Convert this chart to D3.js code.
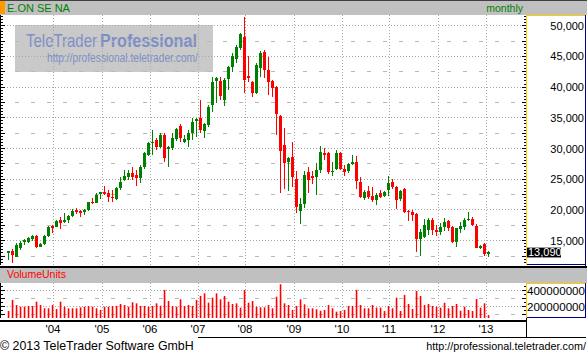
<!DOCTYPE html>
<html><head><meta charset="utf-8">
<script src="https://cdn.jsdelivr.net/npm/d3@7"></script>
<style>
html,body{margin:0;padding:0;background:#fff;}
svg{display:block;font-family:"Liberation Sans",Arial,sans-serif;}
</style></head><body>
<svg id="c" width="587" height="355"></svg>
<script>
// ---------- data ----------
const title = "E.ON SE NA";
const period = "monthly";
const firstMonth = [2003, 1]; // Feb 2003 (month index 0-based)
const openP  = [13.05,13.37,12.40,13.76,14.84,14.84,15.23,15.77,14.02,14.46,15.77,17.39,17.28,18.37,18.05,18.37,19.02,20.00,19.84,19.67,20.00,21.35,21.19,22.55,22.98,22.72,22.16,21.74,23.53,24.88,25.42,26.07,25.70,25.16,27.05,28.95,30.86,31.39,30.30,32.21,29.88,30.04,31.51,33.67,31.12,31.39,32.48,34.54,35.02,32.91,33.84,37.09,41.05,41.00,37.91,41.27,43.23,44.53,46.32,48.21,41.81,40.88,39.00,43.16,45.77,42.79,41.05,40.07,35.30,30.58,27.86,28.68,25.05,19.88,20.98,26.18,25.53,25.42,26.51,29.33,29.33,26.18,26.67,29.33,26.67,26.40,27.44,27.86,24.61,21.90,23.09,22.33,21.63,22.72,22.28,23.25,24.61,23.79,21.79,23.42,19.88,19.62,19.35,15.23,15.65,16.74,18.37,16.74,16.47,17.28,18.21,17.28,14.84,16.95,17.28,18.37,18.53,17.39,13.86,14.46,12.95];
const highP  = [13.37,13.60,14.68,15.00,15.23,15.65,15.98,15.88,14.58,15.93,17.39,17.56,18.37,18.81,19.46,19.18,20.11,20.37,20.00,20.21,21.35,21.90,22.72,22.98,23.91,23.25,23.25,23.79,25.42,26.51,26.51,27.05,26.51,27.32,29.44,31.07,33.02,31.72,32.53,32.53,30.42,32.53,33.35,34.00,32.21,33.02,34.93,34.93,37.91,34.11,37.09,41.70,41.70,41.70,41.44,43.49,45.51,46.86,48.86,51.42,45.07,41.00,43.88,45.88,46.04,44.95,41.16,40.18,35.46,33.40,28.68,31.12,26.35,21.90,26.35,27.05,26.40,27.60,30.42,30.04,29.49,27.86,29.77,29.49,27.32,27.60,28.95,28.79,25.32,23.25,23.91,23.69,22.72,23.25,23.14,25.53,25.00,23.91,23.25,23.53,20.00,20.00,19.46,16.91,18.48,18.65,18.65,17.56,17.93,18.65,18.29,17.39,17.12,18.09,18.65,19.72,18.91,17.67,14.30,14.68,13.37];
const lowP   = [11.86,11.42,12.30,13.49,14.30,14.58,15.00,13.76,13.93,14.30,15.65,16.21,17.18,16.91,17.93,17.83,18.81,19.35,18.81,19.23,19.88,20.98,21.09,21.74,22.44,21.35,21.35,21.63,23.25,24.77,24.88,24.88,23.91,24.44,26.67,28.79,28.95,29.77,30.09,27.81,27.05,29.77,31.23,31.07,30.86,30.30,31.39,31.93,32.48,31.67,33.56,36.00,37.37,37.91,36.93,39.53,42.51,43.88,46.04,39.00,40.88,38.44,38.88,41.60,41.44,38.72,38.34,32.21,22.81,23.37,23.14,23.69,19.56,17.72,20.28,22.81,24.23,22.44,25.97,28.14,25.86,25.53,26.51,26.51,25.58,25.97,27.32,23.37,22.00,21.63,21.74,21.35,20.81,21.90,22.16,22.28,23.37,20.11,21.46,19.56,18.26,18.26,13.21,12.51,15.39,15.93,15.93,15.77,15.93,16.63,16.58,14.68,14.02,16.21,16.74,18.26,17.39,13.76,13.65,12.51,12.40];
const closeP = [13.27,12.67,14.30,14.68,15.11,15.39,15.77,13.93,14.46,15.77,17.18,17.12,18.21,17.83,18.37,19.02,19.88,19.67,19.56,20.00,21.25,21.09,22.49,22.88,22.55,22.16,21.90,23.53,24.61,25.53,25.97,25.42,25.16,27.05,29.23,30.86,31.07,30.30,32.21,28.41,30.21,31.67,33.14,31.72,31.51,32.48,34.37,34.81,33.02,33.95,36.72,40.88,41.54,38.56,41.16,43.33,45.07,46.58,48.65,41.16,41.44,39.09,43.60,45.61,42.79,40.88,39.81,35.63,29.65,27.60,28.41,25.32,20.54,20.98,25.70,24.88,25.26,26.51,29.49,28.95,26.14,26.35,29.23,26.62,26.23,27.44,27.86,24.77,22.16,22.98,22.16,21.63,22.44,22.16,22.98,24.34,23.79,21.63,23.14,19.72,19.72,19.18,15.33,16.47,17.56,18.37,16.74,16.47,17.28,18.09,17.02,14.84,17.02,17.39,18.37,18.53,17.56,13.86,14.14,12.84,13.09];
// volume in millions of units
const volumeM = [146,284,221,200,200,209,209,263,221,180,180,221,171,263,200,180,180,180,192,200,209,200,180,159,200,200,209,209,234,221,200,255,242,209,209,200,209,242,213,409,271,209,200,292,209,221,209,284,334,367,250,313,367,292,334,263,234,242,188,409,250,271,200,192,192,221,180,325,480,242,221,159,209,292,230,180,180,167,150,159,221,180,138,146,159,209,209,409,221,180,180,221,188,188,146,209,180,313,146,346,234,171,396,334,221,234,209,200,188,250,180,209,234,150,200,159,146,296,188,242,96];
const yearLabels = ["'04","'05","'06","'07","'08","'09","'10","'11","'12","'13"];
const priceTicks = [15,20,25,30,35,40,45,50];
const volumeTicks = [200,400];
const lastPrice = 13.09;
const copyright = "\u00a9 2013 TeleTrader Software GmbH";
const siteUrl = "http://professional.teletrader.com/";

// ---------- setup ----------
const n = openP.length;
const months = d3.range(n).map(i => new Date(firstMonth[0], firstMonth[1] + i, 1));
const loc = d3.formatLocale({decimal: ",", thousands: ".", grouping: [3], currency: ["", ""]});
const fmtP = loc.format(".3f");
const fmtV = v => String(Math.round(v * 1e6));

const svg = d3.select("#c");
const plotL = 1, plotR = 526;
const plotT = 15, plotB = 265;
const volT = 283, volB = 318;
const GREEN = "#008000", RED = "#ff0000";

const x = d3.scaleLinear().domain([0, n - 1]).range([8.5, 488.5]);
const y = d3.scaleLinear().domain([15, 50]).range([240.7, 25.7]);
const yV = d3.scaleLinear().domain([0, 500]).range([322.7, 282.7]);
const snap = v => Math.floor(v) + 0.5;

// ---------- header ----------
svg.append("rect").attr("x", 0).attr("y", 0).attr("width", 587).attr("height", 15).attr("fill", "#c0c0c0");
svg.append("rect").attr("x", 0).attr("y", 0).attr("width", 587).attr("height", 1).attr("fill", "#404040");
svg.append("rect").attr("x", 0).attr("y", 1).attr("width", 5).attr("height", 13).attr("fill", "#ff9900");
svg.append("text").attr("x", 7).attr("y", 12).attr("font-size", 11).attr("fill", GREEN).text(title);
svg.append("text").attr("x", 523).attr("y", 12).attr("font-size", 10.5).attr("text-anchor", "end").attr("fill", GREEN).text(period);

// ---------- watermark ----------
const wm = svg.append("g");
wm.append("rect").attr("x", 15).attr("y", 25).attr("width", 198).attr("height", 47).attr("fill", "#c9c9c9");
function squeezed(g, str, x0, y0, size, weight, width) {
  const t = g.append("text").attr("font-size", size).attr("font-weight", weight).attr("fill", "#7f8fc6").text(str);
  const w = t.node().getComputedTextLength() || width;
  t.attr("transform", `translate(${x0},${y0}) scale(${width / w},1)`);
  return t;
}
squeezed(wm, "TeleTrader", 26, 46.7, 18, "normal", 71);
squeezed(wm, "Professional", 100, 46.7, 18, "bold", 97);
squeezed(wm, siteUrl, 47, 62.3, 12.5, "normal", 151);

// ---------- grid ----------
const grid = svg.append("g").attr("shape-rendering", "crispEdges");
const dotStyle = s => s.attr("stroke", "#a8a8a8").attr("stroke-dasharray", "1,2");
const dashStyle = s => s.attr("stroke", "#b8b8b8").attr("stroke-dasharray", "4,12").attr("stroke-dashoffset", 2);
d3.range(12.5, 50.01, 2.5).forEach(v => {
  const yy = snap(y(v));
  if (yy < plotT || yy > plotB) return;
  const l = grid.append("line").attr("x1", plotL).attr("x2", plotR).attr("y1", yy).attr("y2", yy);
  (v % 5 === 0 ? dotStyle : dashStyle)(l);
});
[100, 200, 300, 400].forEach(v => {
  const yy = snap(yV(v));
  const l = grid.append("line").attr("x1", plotL).attr("x2", plotR).attr("y1", yy).attr("y2", yy);
  (v % 200 === 0 ? dotStyle : dashStyle)(l);
});
const janIdx = d3.range(n).filter(i => months[i].getMonth() === 0);
const gx = i => Math.round(x(i)) + 1.5;
janIdx.forEach(i => {
  dotStyle(grid.append("line").attr("x1", gx(i)).attr("x2", gx(i)).attr("y1", plotT).attr("y2", plotB));
  dotStyle(grid.append("line").attr("x1", gx(i)).attr("x2", gx(i)).attr("y1", volT).attr("y2", volB));
});

// ---------- candles ----------
const cg = svg.append("g").attr("shape-rendering", "crispEdges");
d3.range(n).forEach(i => {
  const up = closeP[i] >= openP[i];
  const col = up ? GREEN : RED;
  const cx = x(i);
  cg.append("rect").attr("x", cx - 0.5).attr("width", 1)
    .attr("y", y(highP[i])).attr("height", Math.max(1, y(lowP[i]) - y(highP[i]))).attr("fill", col);
  const top = y(Math.max(openP[i], closeP[i])), bot = y(Math.min(openP[i], closeP[i]));
  cg.append("rect").attr("x", cx - 1.5).attr("width", 3)
    .attr("y", top).attr("height", Math.max(1.2, bot - top)).attr("fill", col);
});

// ---------- left edge ticks & border ----------
const tg = svg.append("g").attr("shape-rendering", "crispEdges").attr("stroke", "#000");
tg.append("line").attr("x1", 0.5).attr("x2", 0.5).attr("y1", plotT).attr("y2", plotB);
tg.append("line").attr("x1", 0.5).attr("x2", 0.5).attr("y1", volT).attr("y2", volB);
d3.range(11.5, 51.51, 0.5).forEach(v => {
  const yy = snap(y(v));
  if (yy < plotT + 1 || yy > plotB) return;
  const long = Math.abs(v / 2.5 - Math.round(v / 2.5)) < 1e-6;
  tg.append("line").attr("x1", 0).attr("x2", long ? 5 : 3).attr("y1", yy).attr("y2", yy);
  tg.append("line").attr("x1", 527).attr("x2", long ? 522 : 524).attr("y1", yy).attr("y2", yy);
});
d3.range(50, 500, 50).forEach(v => {
  const yy = snap(yV(v));
  if (yy < volT + 1 || yy > volB) return;
  const long = v % 100 === 0;
  tg.append("line").attr("x1", 0).attr("x2", long ? 5 : 3).attr("y1", yy).attr("y2", yy);
  tg.append("line").attr("x1", 527).attr("x2", long ? 522 : 524).attr("y1", yy).attr("y2", yy);
});

// ---------- price axis panel ----------
const ap = svg.append("g").attr("shape-rendering", "crispEdges");
ap.append("rect").attr("x", 527).attr("y", 16).attr("width", 58).attr("height", 248).attr("fill", "#fff");
ap.append("line").attr("x1", 526.5).attr("x2", 585).attr("y1", 15.5).attr("y2", 15.5).attr("stroke", "#ffcc00");
ap.append("line").attr("x1", 526.5).attr("x2", 526.5).attr("y1", 15).attr("y2", 265).attr("stroke", "#ffcc00");
ap.append("line").attr("x1", 585.5).attr("x2", 585.5).attr("y1", 15).attr("y2", 266).attr("stroke", "#000080").attr("stroke-width", 1.5);
ap.append("line").attr("x1", 526.5).attr("x2", 586).attr("y1", 264.5).attr("y2", 264.5).attr("stroke", "#000080");
svg.append("g").selectAll("text").data(priceTicks).join("text")
  .attr("x", 584).attr("y", d => y(d)).attr("dy", "0.36em").attr("text-anchor", "end")
  .attr("font-size", 11).attr("fill", "#000").text(d => fmtP(d));
svg.append("rect").attr("x", 527).attr("y", y(lastPrice) - 4.8).attr("width", 34).attr("height", 9.8).attr("fill", "#000");
svg.append("text").attr("x", 528).attr("y", y(lastPrice)).attr("dy", "0.36em").attr("font-size", 11).attr("fill", "#fff").text(fmtP(lastPrice));

// ---------- separator & volume header ----------
svg.append("rect").attr("x", 0).attr("y", 266).attr("width", 587).attr("height", 2).attr("fill", "#000");
svg.append("rect").attr("x", 0).attr("y", 268).attr("width", 587).attr("height", 15).attr("fill", "#c0c0c0");
svg.append("text").attr("x", 7).attr("y", 278.3).attr("font-size", 10.5).attr("fill", RED).text("VolumeUnits");

// ---------- volume bars ----------
svg.append("g").selectAll("rect").data(volumeM).join("rect")
  .attr("x", (d, i) => x(i) - 0.75).attr("width", 1.6)
  .attr("y", d => yV(d)).attr("height", d => volB - yV(d)).attr("fill", RED);

// ---------- volume axis panel ----------
const vp = svg.append("g").attr("shape-rendering", "crispEdges");
vp.append("rect").attr("x", 527).attr("y", 284).attr("width", 58).attr("height", 33).attr("fill", "#fff");
vp.append("line").attr("x1", 526.5).attr("x2", 585).attr("y1", 283.5).attr("y2", 283.5).attr("stroke", "#ffcc00");
vp.append("line").attr("x1", 526.5).attr("x2", 526.5).attr("y1", 283).attr("y2", 318).attr("stroke", "#ffcc00");
vp.append("line").attr("x1", 585.5).attr("x2", 585.5).attr("y1", 283).attr("y2", 318).attr("stroke", "#000080").attr("stroke-width", 1.5);
vp.append("line").attr("x1", 526.5).attr("x2", 586).attr("y1", 317.5).attr("y2", 317.5).attr("stroke", "#000080");
svg.append("g").selectAll("text").data(volumeTicks).join("text")
  .attr("x", 585).attr("y", d => yV(d)).attr("dy", "0.36em").attr("text-anchor", "end")
  .attr("font-size", 11.6).attr("fill", "#000").text(d => fmtV(d));

// ---------- bottom frame ----------
svg.append("rect").attr("x", 0).attr("y", 320).attr("width", 526).attr("height", 2).attr("fill", "#000");
const bf = svg.append("g").attr("shape-rendering", "crispEdges").attr("stroke", "#000");
bf.append("line").attr("x1", 526).attr("x2", 526).attr("y1", 318).attr("y2", 338);
bf.append("line").attr("x1", 198).attr("x2", 586).attr("y1", 337.5).attr("y2", 337.5);

// ---------- x labels ----------
svg.append("g").selectAll("text").data(janIdx).join("text")
  .attr("x", i => gx(i) - 0.5).attr("y", 333.3).attr("text-anchor", "middle")
  .attr("font-size", 11.5).attr("fill", "#000").text((i, k) => yearLabels[k]);

// ---------- footer ----------
svg.append("text").attr("x", 0).attr("y", 349.5).attr("font-size", 12.4).attr("fill", "#000").text(copyright);
svg.append("text").attr("x", 586).attr("y", 349.5).attr("text-anchor", "end").attr("font-size", 10.8).attr("fill", "#000").text(siteUrl);
</script>
</body></html>
